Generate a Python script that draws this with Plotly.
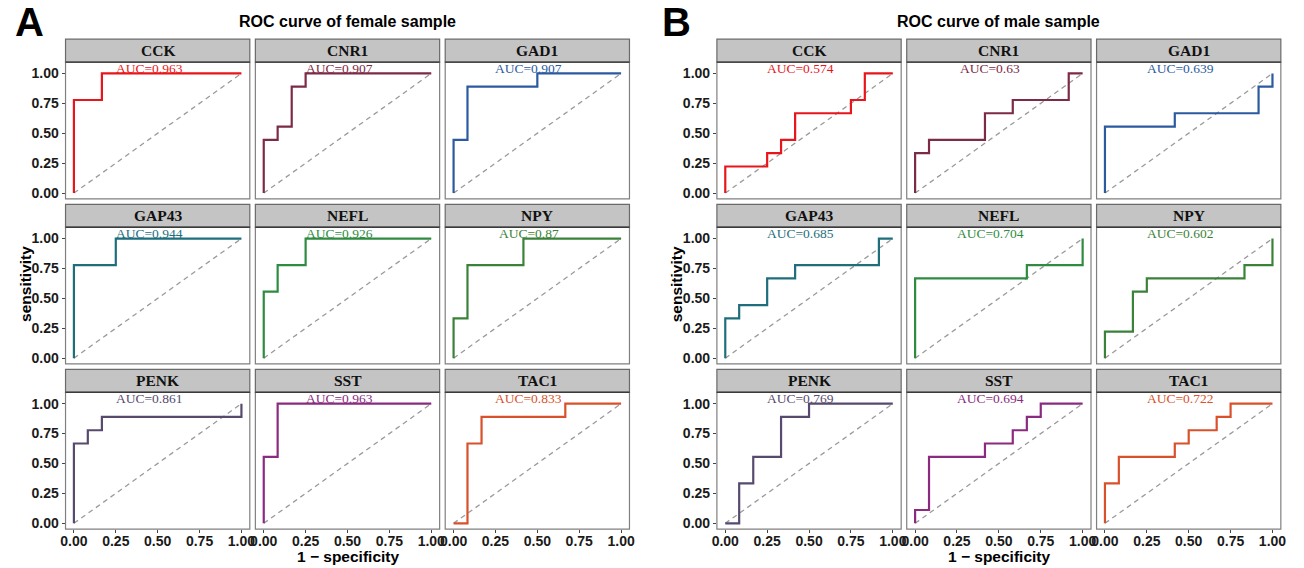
import plotly.graph_objects as go

# ---------------- data ----------------
genes = ["CCK", "CNR1", "GAD1", "GAP43", "NEFL", "NPY", "PENK", "SST", "TAC1"]
gene_colors = ["#E8161B", "#7D2A45", "#2B5AA0", "#1E6E7C", "#2E8B40",
               "#3A8238", "#574A6E", "#8A2B80", "#D8512B"]

female_auc = ["0.963", "0.907", "0.907", "0.944", "0.926", "0.87", "0.861", "0.963", "0.833"]
male_auc = ["0.574", "0.63", "0.639", "0.685", "0.704", "0.602", "0.769", "0.694", "0.722"]

female_fpr = {
    "CCK": [0, 0, 0.167, 0.167, 1],
    "CNR1": [0, 0, 0.083, 0.083, 0.167, 0.167, 0.25, 0.25, 1],
    "GAD1": [0, 0, 0.083, 0.083, 0.5, 0.5, 1],
    "GAP43": [0, 0, 0.25, 0.25, 1],
    "NEFL": [0, 0, 0.083, 0.083, 0.25, 0.25, 1],
    "NPY": [0, 0, 0.083, 0.083, 0.417, 0.417, 1],
    "PENK": [0, 0, 0.083, 0.083, 0.167, 0.167, 1, 1],
    "SST": [0, 0, 0.083, 0.083, 1],
    "TAC1": [0, 0.083, 0.083, 0.167, 0.167, 0.667, 0.667, 1],
}
female_tpr = {
    "CCK": [0, 0.778, 0.778, 1, 1],
    "CNR1": [0, 0.444, 0.444, 0.556, 0.556, 0.889, 0.889, 1, 1],
    "GAD1": [0, 0.444, 0.444, 0.889, 0.889, 1, 1],
    "GAP43": [0, 0.778, 0.778, 1, 1],
    "NEFL": [0, 0.556, 0.556, 0.778, 0.778, 1, 1],
    "NPY": [0, 0.333, 0.333, 0.778, 0.778, 1, 1],
    "PENK": [0, 0.667, 0.667, 0.778, 0.778, 0.889, 0.889, 1],
    "SST": [0, 0.556, 0.556, 1, 1],
    "TAC1": [0, 0, 0.667, 0.667, 0.889, 0.889, 1, 1],
}
male_fpr = {
    "CCK": [0, 0, 0.25, 0.25, 0.333, 0.333, 0.417, 0.417, 0.75, 0.75, 0.833, 0.833, 1],
    "CNR1": [0, 0, 0.083, 0.083, 0.417, 0.417, 0.583, 0.583, 0.917, 0.917, 1],
    "GAD1": [0, 0, 0.417, 0.417, 0.917, 0.917, 1, 1],
    "GAP43": [0, 0, 0.083, 0.083, 0.25, 0.25, 0.417, 0.417, 0.917, 0.917, 1],
    "NEFL": [0, 0, 0.667, 0.667, 1, 1],
    "NPY": [0, 0, 0.167, 0.167, 0.25, 0.25, 0.833, 0.833, 1, 1],
    "PENK": [0, 0.083, 0.083, 0.167, 0.167, 0.333, 0.333, 0.5, 0.5, 1],
    "SST": [0, 0, 0.083, 0.083, 0.417, 0.417, 0.583, 0.583, 0.667, 0.667, 0.75, 0.75, 1],
    "TAC1": [0, 0, 0.083, 0.083, 0.417, 0.417, 0.5, 0.5, 0.667, 0.667, 0.75, 0.75, 1],
}
male_tpr = {
    "CCK": [0, 0.222, 0.222, 0.333, 0.333, 0.444, 0.444, 0.667, 0.667, 0.778, 0.778, 1, 1],
    "CNR1": [0, 0.333, 0.333, 0.444, 0.444, 0.667, 0.667, 0.778, 0.778, 1, 1],
    "GAD1": [0, 0.556, 0.556, 0.667, 0.667, 0.889, 0.889, 1],
    "GAP43": [0, 0.333, 0.333, 0.444, 0.444, 0.667, 0.667, 0.778, 0.778, 1, 1],
    "NEFL": [0, 0.667, 0.667, 0.778, 0.778, 1],
    "NPY": [0, 0.222, 0.222, 0.556, 0.556, 0.667, 0.667, 0.778, 0.778, 1],
    "PENK": [0, 0, 0.333, 0.333, 0.556, 0.556, 0.889, 0.889, 1, 1],
    "SST": [0, 0.111, 0.111, 0.556, 0.556, 0.667, 0.667, 0.778, 0.778, 0.889, 0.889, 1, 1],
    "TAC1": [0, 0.333, 0.333, 0.556, 0.556, 0.667, 0.667, 0.778, 0.778, 0.889, 0.889, 1, 1],
}

tick_vals = [0, 0.25, 0.5, 0.75, 1.0]
tick_text = ["0.00", "0.25", "0.50", "0.75", "1.00"]

panel_titles = ["ROC curve of female sample", "ROC curve of male sample"]
panel_letters = ["A", "B"]

# ---------------- layout geometry (pixels) ----------------
W, H = 1304, 568
col_px = [
    [(61.0, 246.7), (252.3, 438.0), (443.6, 629.3)],
    [(717.4, 903.1), (908.7, 1094.4), (1100.0, 1285.7)],
]
strip_h = 23.0
panel_h = 137.2
gap = 5.5
row_top = 39.3
rows_px = []
y = row_top
for r in range(3):
    s0 = y
    p0 = s0 + strip_h
    p1 = p0 + panel_h
    rows_px.append((s0, p0, p1))
    y = p1 + gap


def fx(px):
    return px / W


def fy(py):
    return 1 - py / H


SANS = "Liberation Sans, Arial, sans-serif"
SERIF = "Liberation Serif, Times New Roman, serif"

fig = go.Figure()
shapes = []
annotations = []
layout_axes = {}

k = 0
for side, (fprs, tprs, aucs) in enumerate([(female_fpr, female_tpr, female_auc),
                                           (male_fpr, male_tpr, male_auc)]):
    for gi, g in enumerate(genes):
        r, c = divmod(gi, 3)
        k += 1
        xa = "x" if k == 1 else f"x{k}"
        ya = "y" if k == 1 else f"y{k}"
        x0p, x1p = col_px[side][c]
        s0, p0, p1 = rows_px[r]

        # diagonal reference
        fig.add_trace(go.Scatter(
            x=[0, 1], y=[0, 1], mode="lines", xaxis=xa, yaxis=ya,
            line=dict(color="#9A9A9A", width=1.3, dash="5px,4px"),
            showlegend=False, hoverinfo="skip"))
        # ROC curve
        fig.add_trace(go.Scatter(
            x=fprs[g], y=tprs[g], mode="lines", xaxis=xa, yaxis=ya,
            line=dict(color=gene_colors[gi], width=2.2),
            showlegend=False))

        annotations.append(dict(
            x=0.45, y=1.045, xref=xa, yref=ya, text="AUC=" + aucs[gi],
            showarrow=False, xanchor="center", yanchor="middle",
            font=dict(family=SERIF, size=13.5, color=gene_colors[gi])))

        xkey = "xaxis" if k == 1 else f"xaxis{k}"
        ykey = "yaxis" if k == 1 else f"yaxis{k}"
        bottom = (r == 2)
        left = (c == 0)
        layout_axes[xkey] = dict(
            domain=[fx(x0p), fx(x1p)], anchor=ya, range=[-0.05, 1.05],
            showgrid=False, zeroline=False, showline=False,
            tickvals=tick_vals, ticktext=tick_text,
            showticklabels=bottom, ticks="outside" if bottom else "",
            ticklen=3, tickwidth=1, tickcolor="#444", ticklabelstandoff=-4,
            tickfont=dict(family=SANS, size=14, color="#1a1a1a", weight="bold"),
            fixedrange=True)
        layout_axes[ykey] = dict(
            domain=[fy(p1), fy(p0)], anchor=xa, range=[-0.048, 1.095],
            showgrid=False, zeroline=False, showline=False,
            tickvals=tick_vals, ticktext=tick_text,
            showticklabels=left, ticks="outside" if left else "",
            ticklen=3, tickwidth=1, tickcolor="#444",
            tickfont=dict(family=SANS, size=14, color="#1a1a1a", weight="bold"),
            fixedrange=True)

        # panel border
        shapes.append(dict(type="rect", xref="paper", yref="paper",
                           x0=fx(x0p), x1=fx(x1p), y0=fy(p1), y1=fy(p0),
                           line=dict(color="#808080", width=1.2),
                           fillcolor="rgba(0,0,0,0)", layer="above"))
        # strip
        shapes.append(dict(type="rect", xref="paper", yref="paper",
                           x0=fx(x0p), x1=fx(x1p), y0=fy(p0), y1=fy(s0),
                           line=dict(color="#6A6A6A", width=1.2),
                           fillcolor="#C4C4C4", layer="above"))
        shapes.append(dict(type="line", xref="paper", yref="paper",
                           x0=fx(x0p), x1=fx(x1p), y0=fy(p0), y1=fy(p0),
                           line=dict(color="#3A3A3A", width=1.4), layer="above"))
        annotations.append(dict(
            x=fx((x0p + x1p) / 2), y=fy((s0 + p0) / 2), xref="paper", yref="paper",
            text="<b>" + g + "</b>", showarrow=False,
            xanchor="center", yanchor="middle",
            font=dict(family=SERIF, size=15.5, color="#111")))

    # titles / axis titles / panel letter
    left_px = col_px[side][0][0]
    right_px = col_px[side][2][1]
    cx = (left_px + right_px) / 2
    annotations.append(dict(
        x=fx(cx), y=fy(22), xref="paper", yref="paper",
        text="<b>" + panel_titles[side] + "</b>", showarrow=False,
        xanchor="center", yanchor="middle",
        font=dict(family=SANS, size=16, color="#000")))
    annotations.append(dict(
        x=fx(cx), y=fy(558), xref="paper", yref="paper",
        text="<b>1 \u2212 specificity</b>", showarrow=False,
        xanchor="center", yanchor="middle",
        font=dict(family=SANS, size=15.5, color="#000")))
    annotations.append(dict(
        x=fx(left_px - 41), y=fy((rows_px[0][0] + rows_px[2][2]) / 2),
        xref="paper", yref="paper",
        text="<b>sensitivity</b>", showarrow=False, textangle=-90,
        xanchor="center", yanchor="middle",
        font=dict(family=SANS, size=15.5, color="#000")))
    annotations.append(dict(
        x=fx(25 if side == 0 else 677), y=fy(22), xref="paper", yref="paper",
        text="<b>" + panel_letters[side] + "</b>", showarrow=False,
        xanchor="center", yanchor="middle",
        font=dict(family=SANS, size=40, color="#000")))

fig.update_layout(
    width=W, height=H, margin=dict(l=0, r=0, t=0, b=0),
    paper_bgcolor="white", plot_bgcolor="white",
    shapes=shapes, annotations=annotations, showlegend=False,
    **layout_axes)

fig.write_html(
    "out.html",
    config={"displayModeBar": False, "staticPlot": True},
    post_script="document.body.style.margin='0';document.body.style.overflow='hidden';")
